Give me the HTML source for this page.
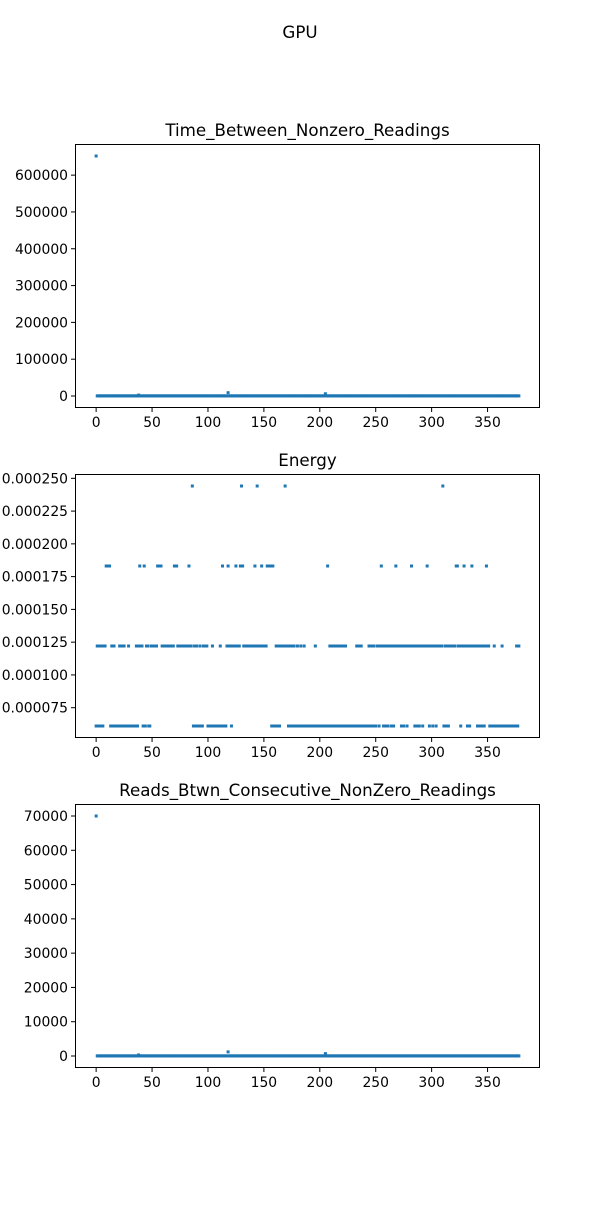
<!DOCTYPE html>
<html><head><meta charset="utf-8"><style>
body{margin:0;background:#fff;}
svg text{font-family:"DejaVu Sans","Liberation Sans",sans-serif;fill:#000;}
</style></head><body>
<svg id="fig" width="600" height="1200" xmlns="http://www.w3.org/2000/svg">
<rect width="600" height="1200" fill="#fff"/>
<text x="300" y="38" font-size="16.7" text-anchor="middle">GPU</text>
</svg>
<script>
const N = 379;
const xTicks = [0,50,100,150,200,250,300,350];
const timeTicks = [0,100000,200000,300000,400000,500000,600000];
const energyTicks = [0.000075,0.0001,0.000125,0.00015,0.000175,0.0002,0.000225,0.00025];
const energyTickLabels = ["0.000075","0.000100","0.000125","0.000150","0.000175","0.000200","0.000225","0.000250"];
const readsTicks = [0,10000,20000,30000,40000,50000,60000,70000];
const timeBaseline = 300;
const timeSpikeIdx = [0,38,118,205];
const timeSpikeVal = [652000,2500,9000,6000];
const readsBaseline = 30;
const readsSpikeIdx = [0,38,118,205];
const readsSpikeVal = [70000,300,1200,700];
const energyLevels = [0,0.000061035,0.00012207,0.00018311,0.00024414];
const energyCodes = "1212121223"+"3331212111"+"1212121112"+"1111112123"+"2213122112"+"2222233332"+"2222222222"+"3332222222"+"2223224121"+"2112112222"+
"1111211111"+"1213111232"+"2122232223"+"4322222222"+"2232422232"+"2223333131"+"1212122224"+"2212121211"+"2112112111"+"1111112111"+
"1111111312"+"1212121212"+"1212111111"+"1112121211"+"1111212121"+"1221232121"+"2122121232"+"2221212212"+"2232212121"+"2212223212"+
"2122122222"+"4121212222"+"2233221223"+"2212123222"+"2121212123"+"2211112111"+"1112111111"+"111111212";

const NS="http://www.w3.org/2000/svg";
const svg=document.getElementById('fig');
function mk(tag,attrs,parent){const e=document.createElementNS(NS,tag);for(const k in attrs)e.setAttribute(k,attrs[k]);(parent||svg).appendChild(e);return e;}

const AX={left:75,right:540};
const xmin=-18.9,xmax=396.9;
function sx(v){return AX.left+(v-xmin)/(xmax-xmin)*(AX.right-AX.left);}

function panel(name,top,bottom,ymin,ymax,vals,ticks,tickLabels,title){
  const g=mk('g',{});
  
  
  const sy=v=>bottom-(v-ymin)/(ymax-ymin)*(bottom-top);
  const t=mk('text',{x:(AX.left+AX.right)/2,y:top-8,'font-size':16.7,'text-anchor':'middle'},g);
  t.textContent=title;
  
  
  const pts=mk('g',{fill:'#1f77b4'},g);
  
  
  vals.forEach((v,i)=>{const r=mk('rect',{x:(sx(i)-1.5).toFixed(2),y:(sy(v)-1.5).toFixed(2),width:3,height:3},pts);
    
    });
  const fr=mk('rect',{x:AX.left+0.5,y:top+0.5,width:AX.right-AX.left-1,height:bottom-top-1,fill:'none',stroke:'#000','stroke-width':1},g);
  
  
  xTicks.forEach(v=>{const x=sx(v);
    mk('line',{x1:x,x2:x,y1:bottom,y2:bottom+4,stroke:'#000'},g);
    const l=mk('text',{x:x,y:bottom+19,'font-size':13.9,'text-anchor':'middle'},g);l.textContent=v;
    
    });
  ticks.forEach((v,i)=>{const y=sy(v);
    mk('line',{x1:AX.left-4,x2:AX.left,y1:y,y2:y,stroke:'#000'},g);
    const l=mk('text',{x:AX.left-7,y:y+5,'font-size':13.9,'text-anchor':'end'},g);l.textContent=tickLabels[i];
    
    });
}
const timeVals=[],readsVals=[],energyVals=[];
for(let i=0;i<N;i++){timeVals.push(timeBaseline);readsVals.push(readsBaseline);energyVals.push(energyLevels[+energyCodes[i]]);}
timeSpikeIdx.forEach((k,j)=>timeVals[k]=timeSpikeVal[j]);
readsSpikeIdx.forEach((k,j)=>readsVals[k]=readsSpikeVal[j]);

panel('time',144,408,-32600,684600,timeVals,timeTicks,timeTicks.map(String),'Time_Between_Nonzero_Readings');
panel('energy',474,738,0.00005188,0.0002533,energyVals,energyTicks,energyTickLabels,'Energy');
panel('reads',804,1068,-3500,73500,readsVals,readsTicks,readsTicks.map(String),'Reads_Btwn_Consecutive_NonZero_Readings');
</script>
</body></html>
